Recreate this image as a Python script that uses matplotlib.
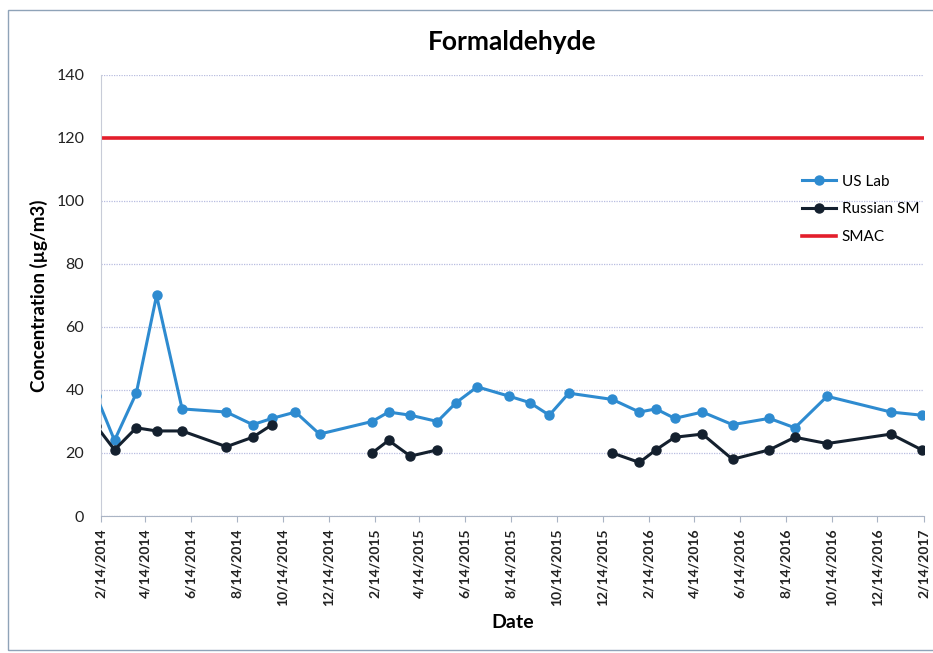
import matplotlib
matplotlib.use("Agg")
import matplotlib.pyplot as plt
from matplotlib.patches import Rectangle
import pandas as pd

plt.rcParams['font.family'] = ['Lato', 'DejaVu Sans']

us_dates = ["2014-02-08", "2014-03-04", "2014-04-02", "2014-04-29", "2014-06-02",
            "2014-07-31", "2014-09-04", "2014-09-30", "2014-10-31", "2014-12-02",
            "2015-02-10", "2015-03-04", "2015-04-02", "2015-05-08", "2015-06-02",
            "2015-06-30", "2015-08-12", "2015-09-08", "2015-10-04", "2015-10-30",
            "2015-12-27", "2016-02-01", "2016-02-23", "2016-03-19", "2016-04-25",
            "2016-06-04", "2016-07-23", "2016-08-26", "2016-10-08", "2017-01-01",
            "2017-02-11"]
us_values = [38, 24, 39, 70, 34,
             33, 29, 31, 33, 26,
             30, 33, 32, 30, 36,
             41, 38, 36, 32, 39,
             37, 33, 34, 31, 33,
             29, 31, 28, 38, 33,
             32]

ru_segments = [
    (["2014-02-08", "2014-03-04", "2014-04-02", "2014-04-29", "2014-06-02",
      "2014-07-31", "2014-09-04", "2014-09-30"],
     [28.5, 21, 28, 27, 27, 22, 25, 29]),
    (["2015-02-10", "2015-03-04", "2015-04-02", "2015-05-08"],
     [20, 24, 19, 21]),
    (["2015-12-27", "2016-02-01", "2016-02-23", "2016-03-19", "2016-04-25",
      "2016-06-04", "2016-07-23", "2016-08-26", "2016-10-08", "2017-01-01",
      "2017-02-11"],
     [20, 17, 21, 25, 26, 18, 21, 25, 23, 26, 21]),
]

smac_value = 120
tick_dates = ["2014-02-14", "2014-04-14", "2014-06-14", "2014-08-14", "2014-10-14",
              "2014-12-14", "2015-02-14", "2015-04-14", "2015-06-14", "2015-08-14",
              "2015-10-14", "2015-12-14", "2016-02-14", "2016-04-14", "2016-06-14",
              "2016-08-14", "2016-10-14", "2016-12-14", "2017-02-14"]
tick_labels = ["2/14/2014", "4/14/2014", "6/14/2014", "8/14/2014", "10/14/2014",
               "12/14/2014", "2/14/2015", "4/14/2015", "6/14/2015", "8/14/2015",
               "10/14/2015", "12/14/2015", "2/14/2016", "4/14/2016", "6/14/2016",
               "8/14/2016", "10/14/2016", "12/14/2016", "2/14/2017"]

blue = '#2e8bd0'
navy = '#14202e'
red = '#e31e2b'

fig = plt.figure(figsize=(9.33, 6.53), dpi=100)
ax = fig.add_axes([101/933, 1-516/653, 823/933, 441/653])

# chart border
fig.patches.append(Rectangle((8/933, 1-650/653), 940/933, 640/653, transform=fig.transFigure,
                             fill=False, edgecolor='#8fa3b8', linewidth=1.0))

xmin = pd.Timestamp("2014-02-14")
xmax = pd.Timestamp("2017-02-14")

ax.plot(pd.to_datetime(us_dates), us_values, color=blue, lw=2.2, marker='o', ms=6.5,
        label='US Lab', zorder=3)
first = True
for d, v in ru_segments:
    ax.plot(pd.to_datetime(d), v, color=navy, lw=2.2, marker='o', ms=6.5,
            label='Russian SM' if first else None, zorder=3)
    first = False
ax.plot([xmin, xmax], [smac_value, smac_value], color=red, lw=2.6, label='SMAC', zorder=2)

ax.set_xlim(xmin, xmax)
ax.set_ylim(0, 140)
ax.set_yticks(range(0, 141, 20))
ax.set_xticks(pd.to_datetime(tick_dates))
ax.set_xticklabels(tick_labels, rotation=90, fontsize=10, fontweight='bold', color='#222222')
ax.tick_params(axis='y', labelsize=11.5, length=0, pad=12, colors='#222222')
ax.tick_params(axis='x', length=4, color='#aab4c4', pad=5)

ax.grid(axis='y', color='#b8bde0', linestyle=(0, (1, 1)), linewidth=0.9)
ax.set_axisbelow(True)
for s in ['top', 'right']:
    ax.spines[s].set_visible(False)
ax.spines['left'].set_color('#c8ccd8')
ax.spines['left'].set_linestyle((0, (1, 1)))
ax.spines['bottom'].set_color('#aab4c4')

ax.set_title('Formaldehyde', fontsize=19, fontweight='bold', pad=18)
ax.set_ylabel('Concentration (µg/m3)', fontsize=13.5, fontweight='bold', labelpad=6)
ax.set_xlabel('Date', fontsize=14, fontweight='bold', labelpad=6)

leg = ax.legend(loc='upper left', bbox_to_anchor=(0.835, 0.805), frameon=False,
                fontsize=11, handlelength=2.2, labelspacing=0.9, handletextpad=0.4)

fig.savefig('out.png', dpi=100)
